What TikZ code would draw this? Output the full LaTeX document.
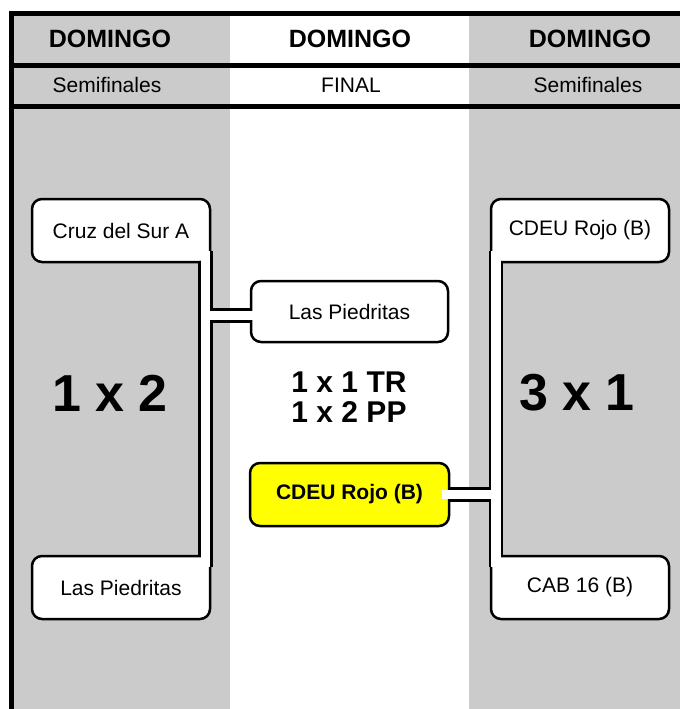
\documentclass[tikz,border=0pt]{standalone}
\usepackage{fontspec}
\setmainfont{Liberation Sans}
\usetikzlibrary{calc}
\pgfdeclarelayer{back}
\pgfdeclarelayer{pipes}
\pgfdeclarelayer{front}
\pgfsetlayers{back,pipes,main,front}
\definecolor{colgray}{RGB}{203,203,203}
\definecolor{winyellow}{RGB}{255,255,0}

\begin{document}
\begin{tikzpicture}[x=1pt,y=-1pt,
                       team node/.style={draw,fill=white,line width=2.5pt,rounded corners=10pt,
                                         inner sep=0pt,minimum width=178pt,minimum height=63pt,
                                         font=\fontsize{21}{25}\selectfont},
                       head/.style={font=\fontsize{25}{30}\selectfont\bfseries},
                       sub/.style={font=\fontsize{21}{25}\selectfont},
                       score/.style={font=\fontsize{52}{60}\selectfont\bfseries},
                       rule/.style={line width=5pt},
                       pipe out/.style={line width=14.5pt,black},
                       pipe in/.style={line width=9.5pt,white}
                           ]
   \useasboundingbox (0,0) rectangle (680,709);
   % columns
   \begin{pgfonlayer}{back}
   \fill[colgray] (13,16) rectangle (230,709);
   \fill[colgray] (469,16) rectangle (680,709);
   \end{pgfonlayer}
   \draw[rule] (9,13.5) -- (680,13.5);
   \draw[rule] (9,65.5) -- (680,65.5);
   \draw[rule] (9,106.5) -- (680,106.5);
   \draw[line width=4.5pt] (11.5,11) -- (11.5,709);
   % headers
   \node[head] (hl) at (110,39) {DOMINGO};
   \node[head] (hm) at (350,39) {DOMINGO};
   \node[head] (hr) at (590,39) {DOMINGO};
   \node[sub] (sl) at (107,85) {Semifinales};
   \node[sub] (sm) at (351,85) {FINAL};
   \node[sub] (sr) at (588,85) {Semifinales};
   % teams
   \node[team node] (cruz) at (121,230.5) {Cruz del Sur A};
   \node[team node] (lpb) at (121,587.5) {Las Piedritas};
   \node[team node] (cdeu) at (580,230.5) {CDEU Rojo (B)};
   \node[team node] (cab) at (580,587.5) {CAB 16 (B)};
   \node[team node,minimum width=197pt,minimum height=61pt] (final1) at (349.5,311.5) {Las Piedritas};
   \node[team node,fill=winyellow,minimum width=199pt,font=\fontsize{21}{25}\selectfont\bfseries]
      (winner) at (349.5,494.5) {CDEU Rojo (B)};
   % results
   \node[score] (resl) at (110,393) {1 x 2};
   \node[score] (resr) at (577,393) {3 x 1};
   \node[align=center,font=\fontsize{30}{30}\selectfont\bfseries] (resf) at (349,397) {1 x 1 TR\\1 x 2 PP};
   % brackets
   \def\brackets{
    ([xshift=-6pt,yshift=12pt]cruz.south east) -- ([xshift=-6pt,yshift=-12pt]lpb.north east)
    ($(cruz.east |- final1.west)+(-6,4)$) -- ($(final1.west)+(8,4)$)
    ([xshift=6pt,yshift=12pt]cdeu.south west) -- ([xshift=6pt,yshift=-12pt]cab.north west)
    ($(cdeu.west |- winner.east)+(6,0)$) -- ($(winner.east)+(-8,0)$)}
   \begin{pgfonlayer}{pipes}
   \draw[pipe out] \brackets;
   \end{pgfonlayer}
   \begin{pgfonlayer}{front}
   \draw[pipe in] \brackets;
   \end{pgfonlayer}
\end{tikzpicture}
\end{document}
